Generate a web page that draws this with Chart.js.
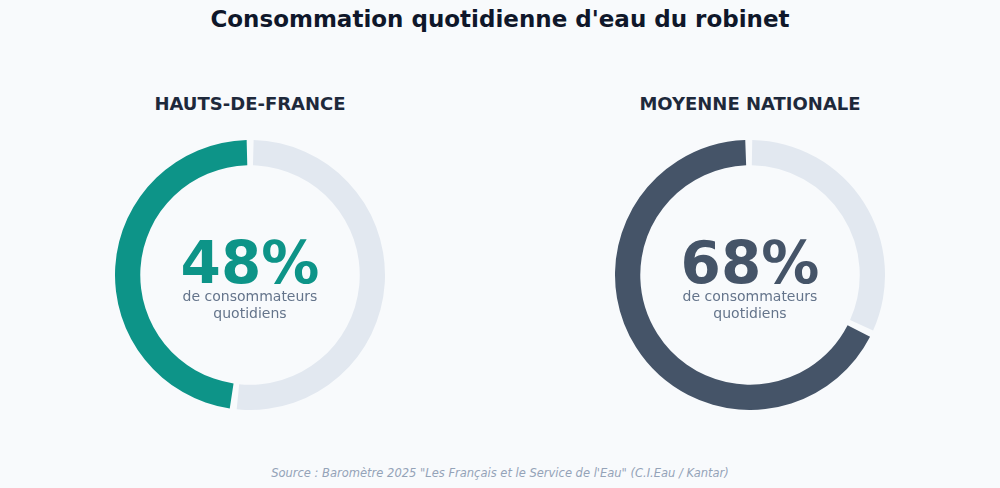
<!DOCTYPE html>
<html lang="fr">
<head>
<meta charset="utf-8">
<script src="https://cdn.jsdelivr.net/npm/chart.js@4"></script>
<style>
  html, body { margin: 0; padding: 0; background: #f8fafc; }
  body { width: 1000px; height: 488px; position: relative; overflow: hidden;
         font-family: "DejaVu Sans", sans-serif; }
  .title { position: absolute; left: 0; top: 6px; width: 1000px; text-align: center;
           font-weight: bold; font-size: 23px; color: #0f172a; }
  .region { position: absolute; top: 93px; width: 300px; text-align: center;
            font-weight: bold; font-size: 18px; color: #1e293b; }
  .donut { position: absolute; top: 140px; width: 270px; height: 270px; }
  .donut canvas { position: absolute; left: 0; top: 0; }
  .pct { position: absolute; left: 0; top: 88px; width: 270px; text-align: center;
         font-weight: bold; font-size: 58px; line-height: 70px; }
  .sub { position: absolute; left: 0; top: 148px; width: 270px; text-align: center;
         font-size: 14px; line-height: 17px; color: #64748b; }
  .source { position: absolute; left: 0; top: 466px; width: 1000px; text-align: center;
            font-style: italic; font-size: 11.5px; color: #94a3b8; }
</style>
</head>
<body>
<div class="title">Consommation quotidienne d'eau du robinet</div>
<div id="charts"></div>
<div class="source">Source : Baromètre 2025 "Les Français et le Service de l'Eau" (C.I.Eau / Kantar)</div>

<script>
// Regions and shares
const regions = ['HAUTS-DE-FRANCE', 'MOYENNE NATIONALE'];
const dailyShare = [48, 68];      // % daily tap-water drinkers
const otherShare = [52, 32];      // remainder
const segmentLabels = ['Autres', 'Consommateurs quotidiens'];
const mainColors = ['#0d9488', '#455468'];
const restColor = '#e2e8f0';
const centerX = [250, 750];

const container = document.getElementById('charts');

regions.forEach((name, i) => {
    // Region heading
    const head = document.createElement('div');
    head.className = 'region';
    head.style.left = (centerX[i] - 150) + 'px';
    head.textContent = name;
    container.appendChild(head);

    // Donut wrapper
    const wrap = document.createElement('div');
    wrap.className = 'donut';
    wrap.style.left = (centerX[i] - 135) + 'px';

    const canvas = document.createElement('canvas');
    canvas.width = 270;
    canvas.height = 270;
    wrap.appendChild(canvas);

    // Center labels
    const pct = document.createElement('div');
    pct.className = 'pct';
    pct.style.color = mainColors[i];
    pct.textContent = dailyShare[i] + '%';
    wrap.appendChild(pct);

    const sub = document.createElement('div');
    sub.className = 'sub';
    sub.innerHTML = 'de consommateurs<br>quotidiens';
    wrap.appendChild(sub);

    container.appendChild(wrap);

    new Chart(canvas, {
        type: 'doughnut',
        data: {
            labels: segmentLabels,
            datasets: [{
                data: [otherShare[i], dailyShare[i]],
                backgroundColor: [restColor, mainColors[i]],
                borderWidth: 0,
                spacing: 4
            }]
        },
        options: {
            responsive: false,
            animation: false,
            cutout: '81%',
            layout: { padding: 0 },
            plugins: {
                legend: { display: false },
                tooltip: { enabled: false }
            }
        }
    });
});
</script>
</body>
</html>
